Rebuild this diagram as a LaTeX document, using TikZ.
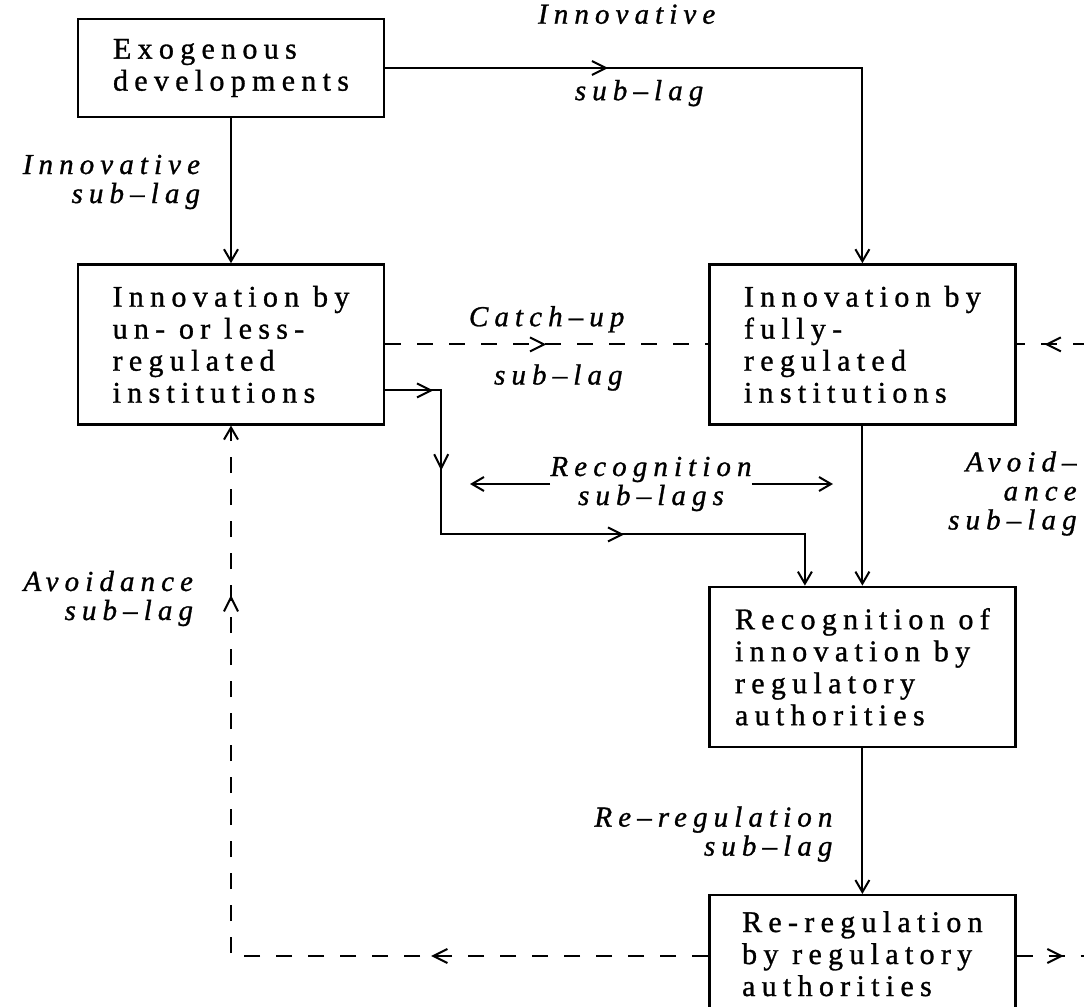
\documentclass[tikz,border=0pt]{standalone}
\usepackage{fontspec}
\setmainfont{Liberation Serif}[LetterSpace=21,FakeBold=1]
\usepackage{tikz}
\usetikzlibrary{arrows.meta,positioning,decorations.markings}

\begin{document}
\begin{tikzpicture}[
  box/.style={draw,line width=1.2pt,minimum width=153pt,minimum height=80pt,inner xsep=4pt,inner ysep=8pt,align=left,font=\fontsize{15pt}{16pt}\selectfont},
  lbl/.style={inner sep=0pt,font=\fontsize{14.5pt}{14.5pt}\selectfont\itshape},
  conn/.style={line width=1pt},
  arrow/.style={conn,-{Straight Barb[length=6pt,width=7pt]}},
  broken/.style={dash pattern=on 8pt off 8pt},
  tick/.style={postaction={decorate,decoration={markings,mark=at position #1 with {\arrow{Straight Barb[length=7pt,width=7pt]}}}}},
]
\useasboundingbox (0,0) rectangle (542pt,-503.5pt);
\clip (0,0) rectangle (542pt,-503.5pt);
\node[box,minimum height=49pt] (ex) at (115.5pt,-34pt) {Exogenous\\developments};
\node[box] (un) [below=72.5pt of ex]  {Innovation by\\un- or less-\\regulated\\institutions};
\node[box] (fr) [right=161.5pt of un] {Innovation by\\fully-\\regulated\\institutions};
\node[box] (rc) [below=80pt of fr]    {Recognition of\\innovation by\\regulatory\\authorities};
\node[box,text depth=40pt] (rr) [below=73pt of rc] {Re-regulation\\by regulatory\\authorities};
\node[lbl,align=center] (rl) at (325.5pt,-242pt) {Recognition\\sub--lags};
\node[lbl,align=right,anchor=east] (av) at (538.5pt,-246.75pt) {Avoid--\\ance\\sub--lag};
\coordinate (rlw) at (235pt,-242pt);
\coordinate (rle) at (416.5pt,-242pt);
\coordinate[right=36pt of fr.east] (rin);
\coordinate (rout) at ([yshift=-31pt]rr.north east -| rin);
\draw[arrow] (ex) -- node[lbl,align=right,pos=.44,left=15pt]{Innovative\\sub--lag} (un);
\draw[arrow,tick=111.5pt] (ex.east) -| node[lbl,pos=.253,above=21.5pt]{Innovative} node[lbl,pos=.266,below=5.5pt]{sub--lag} (fr.north);
\draw[conn,broken,tick=80.5pt] (un.east) -- node[lbl,pos=.5,above=5.5pt]{Catch--up} node[lbl,pos=.536,below=9.5pt]{sub--lag} (fr.west);
\draw[conn,broken,tick=22pt] (rin) -- (fr.east);
\draw[arrow,tick=24pt,tick=68pt,tick=191.5pt] ([yshift=-23pt]un.east) -| ++(28pt,-72pt) -| ([xshift=-28.75pt]rc.north);
\draw[arrow] (fr) -- (rc);
\draw[arrow] (rl.west) -- (rlw);
\draw[arrow] (rl.east) -- (rle);
\draw[arrow] (rc) -- node[lbl,align=right,pos=.59,left=14.5pt]{Re--regulation\\sub--lag} (rr);
\draw[arrow,broken,tick=138.5pt,tick=419pt] ([yshift=-31pt]rr.north west) -| node[lbl,align=right,pos=.837,left=18.5pt]{Avoidance\\sub--lag} (un.south);
\draw[conn,broken,tick=23.5pt] ([yshift=-31pt]rr.north east) -- (rout);
\end{tikzpicture}
\end{document}
